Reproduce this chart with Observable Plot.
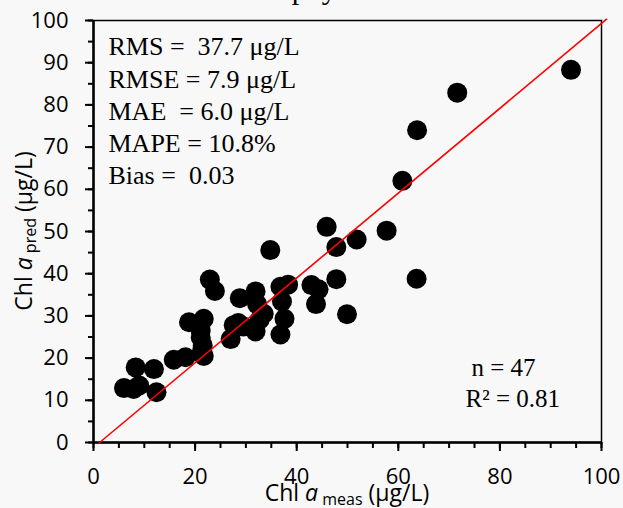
<!DOCTYPE html>
<html><head><meta charset="utf-8">
<script src="https://cdn.jsdelivr.net/npm/d3@7"></script>
<script src="https://cdn.jsdelivr.net/npm/@observablehq/plot@0.6"></script>
<style>
html,body{margin:0;padding:0;background:#f8f8f8;}
#chart svg{display:block;}
</style></head><body><div id="chart"></div>
<script>
const measured = [94, 71.6, 63.7, 60.8, 45.9, 47.8, 51.8, 57.7, 34.8, 47.8, 42.9, 44.3, 43.8, 49.9, 36.8, 38.3, 37.1, 37.6, 36.8, 31.9, 32.2, 32.7, 31.9, 22.9, 23.9, 28.8, 27.6, 27.0, 28.5, 18.8, 21.7, 21.1, 21.1, 21.4, 18.1, 15.8, 21.7, 8.3, 11.9, 6.0, 7.9, 12.4, 63.6, 29.5, 33.5, 21.5, 9.0];
const predicted = [88.3, 82.9, 74.0, 62.0, 51.1, 46.3, 48.1, 50.2, 45.6, 38.7, 37.3, 36.3, 32.8, 30.4, 36.9, 37.4, 33.4, 29.3, 25.6, 35.8, 32.8, 29.1, 26.3, 38.6, 35.9, 34.2, 27.8, 24.5, 28.3, 28.5, 29.3, 24.9, 26.5, 21.8, 20.2, 19.6, 20.5, 17.8, 17.4, 12.9, 12.7, 11.9, 38.8, 27.5, 30.5, 23.0, 13.5];
const xTicks = [0, 20, 40, 60, 80, 100];
const yTicks = [0, 10, 20, 30, 40, 50, 60, 70, 80, 90, 100];
const minorTicks = [0, 5, 10, 15, 20, 25, 30, 35, 40, 45, 50, 55, 60, 65, 70, 75, 80, 85, 90, 95, 100];
const fitX = [1.2, 101];
const fitY = [0, 100.3];
const statsLines = ["RMS =  37.7 μg/L", "RMSE = 7.9 μg/L", "MAE  = 6.0 μg/L", "MAPE = 10.8%", "Bias =  0.03"];
const nLine = "n = 47";
const r2Line = "R² = 0.81";
const titleText = "Chlorophyll";

const points = measured.map((m, i) => ({m, p: predicted[i]}));
const fit = fitX.map((x, i) => ({x, y: fitY[i]}));
const serif = "'Liberation Serif', 'Times New Roman', serif";

const plot = Plot.plot({
  width: 623, height: 508,
  marginLeft: 93, marginRight: 22, marginTop: 20, marginBottom: 66,
  x: {domain: [0, 100]},
  y: {domain: [0, 100]},
  style: {background: "#f8f8f8", fontFamily: "'Open Sans', sans-serif", fontSize: "22px", color: "black", overflow: "visible"},
  marks: [
    Plot.frame({stroke: "black", strokeWidth: 1.5}),
    Plot.axisX(minorTicks, {tickSize: 6, tickFormat: () => "", label: null, strokeWidth: 2}),
    Plot.axisX(xTicks, {tickSize: 9, tickPadding: 17, label: null, strokeWidth: 2, fontSize: 22}),
    Plot.axisY(minorTicks, {tickSize: 5, tickFormat: () => "", label: null, strokeWidth: 2}),
    Plot.axisY(yTicks, {tickSize: 8, tickPadding: 17, label: null, strokeWidth: 2, fontSize: 22}),
    Plot.ruleY([0], {stroke: "black", strokeWidth: 2.5}),
    Plot.ruleX([0], {stroke: "black", strokeWidth: 2.5}),
    Plot.dot(points, {x: "m", y: "p", r: 10, fill: "black", stroke: "none"}),
    Plot.line(fit, {x: "x", y: "y", stroke: "red", strokeWidth: 1.6, clip: false}),
    Plot.text([statsLines.join("\n")], {frameAnchor: "top-left", textAnchor: "start", lineAnchor: "top", dx: 15, dy: 12, lineHeight: 1.24, fontSize: 26, fontFamily: serif, fill: "black"}),
    Plot.text([nLine], {frameAnchor: "top-left", textAnchor: "start", lineAnchor: "top", dx: 378, dy: 338, fontSize: 25, fontFamily: serif, fill: "black"}),
    Plot.text([r2Line], {frameAnchor: "top-left", textAnchor: "start", lineAnchor: "top", dx: 372, dy: 369, fontSize: 25, fontFamily: serif, fill: "black"})
  ]
});

const svg = d3.select(plot);
// cut-off title at the top edge, as in the source figure
svg.append("text")
  .attr("x", 281).attr("y", -1)
  .attr("font-family", serif)
  .attr("font-size", 30)
  .attr("fill", "black")
  .text(titleText);
// x axis title
const xt = svg.append("text")
  .attr("x", 347).attr("y", 501)
  .attr("text-anchor", "middle")
  .attr("font-family", "'Open Sans', sans-serif")
  .attr("font-size", 23)
  .attr("fill", "black");
xt.append("tspan").text("Chl ");
xt.append("tspan").attr("font-style", "italic").text("a");
xt.append("tspan").attr("font-size", 16).attr("dy", 4).text(" meas");
xt.append("tspan").attr("dy", -4).text(" (μg/L)");
// y axis title
const yt = svg.append("text")
  .attr("transform", "translate(32,231) rotate(-90)")
  .attr("text-anchor", "middle")
  .attr("font-family", "'Open Sans', sans-serif")
  .attr("font-size", 23)
  .attr("fill", "black");
yt.append("tspan").text("Chl ");
yt.append("tspan").attr("font-style", "italic").text("a");
yt.append("tspan").attr("font-size", 16).attr("dy", 4).text(" pred");
yt.append("tspan").attr("dy", -4).text(" (μg/L)");

document.getElementById("chart").appendChild(plot);
</script>
</body></html>
